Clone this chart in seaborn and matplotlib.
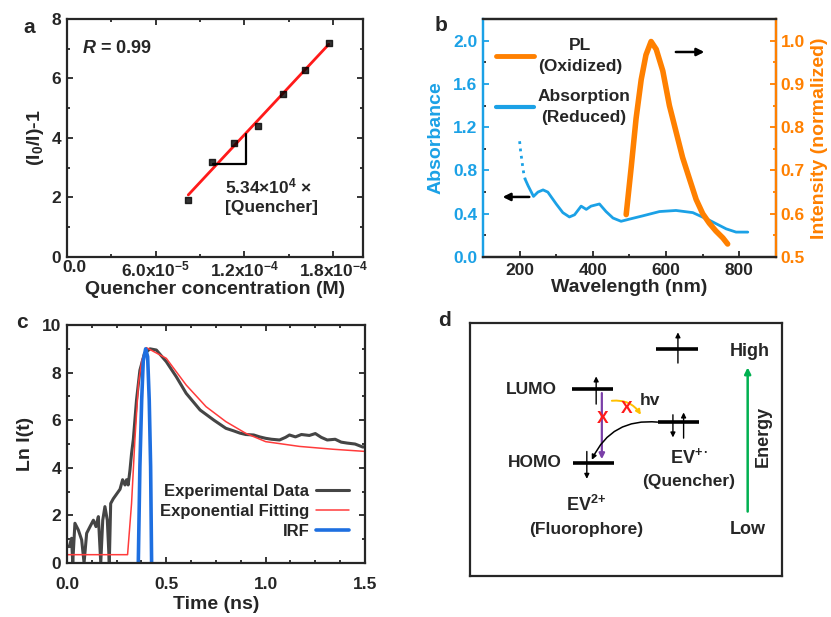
import numpy as np
import pandas as pd
import matplotlib
matplotlib.use("Agg")
import matplotlib.pyplot as plt
import matplotlib.transforms as mtransforms
import seaborn as sns
from matplotlib.lines import Line2D
from matplotlib.ticker import MultipleLocator

# ---------------- data ----------------
# a: Stern-Volmer
conc = [8.2e-5, 9.8e-5, 1.13e-4, 1.29e-4, 1.46e-4, 1.61e-4, 1.77e-4]
i0_ratio = [1.92, 3.19, 3.83, 4.40, 5.48, 6.29, 7.19]

# b: absorption (reduced) and PL (oxidized)
abs_wl_dot = [200, 203, 206, 209, 212, 215]
abs_val_dot = [1.07, 0.97, 0.90, 0.82, 0.76, 0.72]
abs_wl = [215, 223, 238, 250, 264, 277, 300, 318, 336, 350, 368, 382, 395, 418, 436,
          455, 477, 500, 536, 582, 627, 673, 718, 764, 791, 823]
abs_val = [0.72, 0.66, 0.56, 0.60, 0.62, 0.60, 0.49, 0.41, 0.37, 0.39, 0.47, 0.44, 0.47,
           0.49, 0.42, 0.36, 0.33, 0.35, 0.38, 0.42, 0.43, 0.41, 0.34, 0.26, 0.23, 0.23]
pl_wl = [491, 505, 518, 532, 545, 559, 573, 591, 609, 627, 645, 664, 682, 700, 718,
         736, 755, 768]
pl_val = [0.598, 0.71, 0.82, 0.91, 0.967, 0.998, 0.98, 0.93, 0.85, 0.79, 0.73, 0.68,
          0.633, 0.60, 0.578, 0.56, 0.544, 0.53]

# c: TRPL
exp_t = [0.0, 0.012, 0.023, 0.029, 0.04, 0.057, 0.074, 0.086, 0.099, 0.116, 0.133, 0.146,
         0.158, 0.17, 0.18, 0.191, 0.203, 0.213, 0.22, 0.233, 0.25, 0.267, 0.28, 0.292,
         0.30, 0.308, 0.317, 0.325, 0.334, 0.35, 0.367, 0.39, 0.418, 0.45, 0.50, 0.55,
         0.60, 0.67, 0.74, 0.80, 0.84, 0.87, 0.90, 0.94, 0.97, 1.00, 1.03, 1.07, 1.10,
         1.12, 1.15, 1.18, 1.22, 1.25, 1.28, 1.31, 1.35, 1.38, 1.41, 1.45, 1.49, 1.5]
exp_ln = [0.7, 0.69, 1.04, 0.0, 1.67, 1.39, 0.97, 0.0, 1.25, 1.53, 1.8, 1.53,
          1.95, 0.0, 1.8, 2.37, 1.8, 0.0, 2.5, 2.7, 2.9, 3.1, 3.5, 3.28,
          3.5, 3.28, 3.9, 4.6, 5.2, 6.85, 8.1, 8.8, 9.0, 8.95, 8.46, 7.83,
          7.13, 6.43, 6.0, 5.66, 5.55, 5.46, 5.40, 5.38, 5.30, 5.24, 5.20, 5.17, 5.28,
          5.38, 5.30, 5.40, 5.36, 5.44, 5.28, 5.17, 5.20, 5.08, 5.04, 5.00, 4.87, 4.9]
fit_t = [0.0, 0.305, 0.325, 0.342, 0.36, 0.376, 0.40, 0.50, 0.60, 0.70, 0.80, 0.90,
         1.00, 1.17, 1.34, 1.5]
fit_ln = [0.35, 0.35, 2.5, 5.2, 7.55, 8.5, 9.05, 8.6, 7.48, 6.57, 5.94, 5.45,
          5.1, 4.9, 4.78, 4.69]
irf_t = [0.359, 0.367, 0.376, 0.384, 0.396, 0.406, 0.414, 0.421, 0.426]
irf_ln = [0.0, 4.06, 6.85, 8.5, 9.0, 8.67, 6.85, 4.06, 0.0]

# ---------------- style ----------------
sns.set_style("ticks")
plt.rcParams["font.family"] = ["Liberation Sans", "DejaVu Sans"]
plt.rcParams["font.weight"] = "bold"
plt.rcParams["axes.labelweight"] = "bold"
plt.rcParams["mathtext.fontset"] = "custom"
plt.rcParams["mathtext.rm"] = "Liberation Sans:bold"
plt.rcParams["mathtext.bf"] = "Liberation Sans:bold"
plt.rcParams["mathtext.it"] = "Liberation Sans:bold:italic"

BLUE = "#1ba1e6"
ORANGE = "#ff8000"
TICK = 12.5
LAB = 14

fig = plt.figure(figsize=(8.31, 6.17), dpi=100)
ax_a = fig.add_axes([0.0806, 0.5835, 0.356, 0.3857])
ax_b = fig.add_axes([0.5812, 0.5835, 0.3526, 0.3857])
ax_c = fig.add_axes([0.0806, 0.0875, 0.3586, 0.3857])
ax_d = fig.add_axes([0.5656, 0.0665, 0.3755, 0.41])


def frame(ax, right=True, top=True):
    for s in ax.spines.values():
        s.set_linewidth(1.6)
    ax.tick_params(which="both", direction="in", top=top, right=right, width=1.3,
                   labelsize=TICK, pad=4)
    ax.tick_params(which="major", length=4)
    ax.tick_params(which="minor", length=2.5)


# ---------------- a ----------------
df_a = pd.DataFrame({"conc": conc, "ratio": i0_ratio})
sns.regplot(data=df_a, x="conc", y="ratio", ax=ax_a, ci=None, marker="s",
            scatter_kws={"color": "black", "s": 14, "zorder": 3},
            line_kws={"color": "#ff1a1a", "lw": 2})
ax_a.set_xlim(0, 2e-4)
ax_a.set_ylim(0, 8)
ax_a.set_xticks([0, 6e-5, 1.2e-4, 1.8e-4])
ax_a.set_xticklabels(["0.0", "6.0x10$^{-5}$", "1.2x10$^{-4}$", "1.8x10$^{-4}$"])
ax_a.xaxis.set_minor_locator(MultipleLocator(3e-5))
ax_a.yaxis.set_major_locator(MultipleLocator(2))
ax_a.yaxis.set_minor_locator(MultipleLocator(1))
ax_a.set_xlabel("Quencher concentration (M)", fontsize=LAB, labelpad=1)
ax_a.set_ylabel("(I$_0$/I)-1", fontsize=LAB, labelpad=4)
frame(ax_a)
ax_a.tick_params(axis="x", pad=2)
# the "0.0" label sits a little right of its tick in the original
zero_lab = ax_a.get_xticklabels()[0]
zero_lab.set_transform(zero_lab.get_transform() +
                       mtransforms.ScaledTranslation(0.07, 0, fig.dpi_scale_trans))
ax_a.plot([9.9e-5, 1.21e-4, 1.21e-4], [3.12, 3.12, 4.15], color="black", lw=1.6)
ax_a.text(1.07e-4, 2.05, "5.34×10$^{4}$ ×\n[Quencher]", fontsize=12.5, ha="left",
          va="center", linespacing=1.3)
ax_a.text(1.0e-5, 7.0, "$R$ = 0.99", fontsize=13, va="center")
fig.text(0.028, 0.955, "a", fontsize=15, fontweight="bold", va="center")

# ---------------- b ----------------
sns.lineplot(x=abs_wl_dot, y=abs_val_dot, ax=ax_b, color=BLUE, lw=2, ls=":")
sns.lineplot(x=abs_wl, y=abs_val, ax=ax_b, color=BLUE, lw=2)
ax_b.set_xlim(100, 900)
ax_b.set_ylim(0, 2.2)
ax_b.xaxis.set_major_locator(MultipleLocator(200))
ax_b.xaxis.set_minor_locator(MultipleLocator(100))
ax_b.yaxis.set_major_locator(MultipleLocator(0.4))
ax_b.yaxis.set_minor_locator(MultipleLocator(0.2))
ax_b.yaxis.set_major_formatter(matplotlib.ticker.FormatStrFormatter("%.1f"))
ax_b.set_xlabel("Wavelength (nm)", fontsize=LAB, labelpad=1)
ax_b.set_ylabel("Absorbance", fontsize=LAB, color=BLUE, labelpad=6)
frame(ax_b, right=False, top=False)
ax_b.tick_params(axis="y", colors=BLUE, labelcolor=BLUE)
ax_b.spines["left"].set_color(BLUE)

ax_b2 = ax_b.twinx()
sns.lineplot(x=pl_wl, y=pl_val, ax=ax_b2, color=ORANGE, lw=4)
ax_b2.set_ylim(0.5, 1.05)
ax_b2.yaxis.set_major_locator(MultipleLocator(0.1))
ax_b2.yaxis.set_minor_locator(MultipleLocator(0.05))
ax_b2.set_ylabel("Intensity (normalized)", fontsize=LAB, color=ORANGE, labelpad=4)
for s in ax_b2.spines.values():
    s.set_linewidth(1.6)
ax_b2.spines["right"].set_color(ORANGE)
ax_b2.spines["left"].set_color(BLUE)
ax_b2.tick_params(which="both", direction="in", colors=ORANGE, labelcolor=ORANGE,
                  labelsize=TICK, width=1.3)
ax_b2.tick_params(which="major", length=4)
ax_b2.tick_params(which="minor", length=2.5)

handles_b = [Line2D([], [], color=ORANGE, lw=3.5), Line2D([], [], color=BLUE, lw=3)]
leg_b = ax_b.legend(handles_b, ["PL\n(Oxidized)", "Absorption\n(Reduced)"],
                    loc="upper left", bbox_to_anchor=(0.015, 0.955), frameon=False,
                    fontsize=12.5, handlelength=2.2, handletextpad=0.2,
                    labelspacing=0.9, borderpad=0)
for t in leg_b.get_texts():
    t.set_multialignment("center")
    t.set_linespacing(1.45)
ax_b.annotate("", xy=(146, 0.555), xytext=(234, 0.555),
              arrowprops=dict(arrowstyle="-|>", color="black", lw=1.8, mutation_scale=11))
ax_b.annotate("", xy=(712, 1.895), xytext=(619, 1.895),
              arrowprops=dict(arrowstyle="-|>", color="black", lw=1.8, mutation_scale=11))
fig.text(0.523, 0.958, "b", fontsize=15, fontweight="bold", va="center")

# ---------------- c ----------------
sns.lineplot(x=exp_t, y=exp_ln, ax=ax_c, color="#454545", lw=2.2, sort=False)
sns.lineplot(x=fit_t, y=fit_ln, ax=ax_c, color="#ff3b3b", lw=1.1, sort=False)
sns.lineplot(x=irf_t, y=irf_ln, ax=ax_c, color="#1e6fe0", lw=2.6, sort=False)
ax_c.set_xlim(0, 1.5)
ax_c.set_ylim(0, 10)
ax_c.xaxis.set_major_locator(MultipleLocator(0.5))
ax_c.xaxis.set_minor_locator(MultipleLocator(0.125))
ax_c.yaxis.set_major_locator(MultipleLocator(2))
ax_c.yaxis.set_minor_locator(MultipleLocator(1))
ax_c.xaxis.set_major_formatter(matplotlib.ticker.FormatStrFormatter("%.1f"))
ax_c.set_xlabel("Time (ns)", fontsize=LAB, labelpad=3)
ax_c.set_ylabel("Ln I(t)", fontsize=LAB, labelpad=6)
frame(ax_c)
ax_c.tick_params(axis="x", pad=10)
handles_c = [Line2D([], [], color="#454545", lw=2.2), Line2D([], [], color="#ff3b3b", lw=1.1),
             Line2D([], [], color="#1e6fe0", lw=2.6)]
ax_c.legend(handles_c, ["Experimental Data", "Exponential Fitting", "IRF"],
            loc="lower right", bbox_to_anchor=(0.975, 0.065), frameon=False,
            markerfirst=False, fontsize=12, handlelength=2.0, handletextpad=0.4,
            labelspacing=0.3, borderpad=0)
fig.text(0.02, 0.478, "c", fontsize=15, fontweight="bold", va="center")

# ---------------- d ----------------
ax_d.set_xlim(150, 1085)
ax_d.set_ylim(828, 70)
ax_d.set_xticks([])
ax_d.set_yticks([])
for s in ax_d.spines.values():
    s.set_linewidth(1.6)
for (x0, x1, y) in [(455, 578, 268), (458, 580, 488), (712, 835, 367), (708, 832, 148)]:
    ax_d.plot([x0, x1], [y, y], color="black", lw=2.6, solid_capstyle="butt")


def arr(ax, x0, y0, x1, y1, color="black", lw=1.0, ms=7, cs="arc3"):
    ax.annotate("", xy=(x1, y1), xytext=(x0, y0),
                arrowprops=dict(arrowstyle="-|>", color=color, lw=lw,
                                mutation_scale=ms, connectionstyle=cs,
                                shrinkA=0, shrinkB=0))


arr(ax_d, 528, 313, 528, 230)
arr(ax_d, 500, 455, 500, 537)
arr(ax_d, 758, 345, 758, 413)
arr(ax_d, 790, 415, 790, 338)
arr(ax_d, 773, 190, 773, 98)
arr(ax_d, 545, 280, 545, 478, color="#7a3fa8", lw=1.6, ms=8)
arr(ax_d, 575, 303, 662, 345, color="#ffc000", lw=1.4, ms=7, cs="arc3,rad=-0.3")
arr(ax_d, 712, 367, 515, 480, color="black", lw=1.1, ms=7, cs="arc3,rad=0.35")
arr(ax_d, 982, 635, 982, 203, color="#00b050", lw=1.8, ms=9)
ax_d.text(548, 355, "X", color="#ff1a1a", fontsize=12.5, ha="center", va="center")
ax_d.text(618, 325, "X", color="#ff1a1a", fontsize=12.5, ha="center", va="center")
ax_d.text(690, 302, "hv", fontsize=12.5, ha="center", va="center")
ax_d.text(335, 268, "LUMO", fontsize=12.5, ha="center", va="center")
ax_d.text(345, 488, "HOMO", fontsize=12.5, ha="center", va="center")
ax_d.text(808, 472, r"EV$^{{+}\bullet}$", fontsize=13, ha="center", va="center")
ax_d.text(805, 545, "(Quencher)", fontsize=12.5, ha="center", va="center")
ax_d.text(497, 615, "EV$^{2{+}}$", fontsize=13, ha="center", va="center")
ax_d.text(497, 688, "(Fluorophore)", fontsize=12.5, ha="center", va="center")
ax_d.text(988, 155, "High", fontsize=13, ha="center", va="center")
ax_d.text(982, 690, "Low", fontsize=13, ha="center", va="center")
ax_d.text(1030, 410, "Energy", fontsize=13, ha="center", va="center", rotation=90)
fig.text(0.527, 0.48, "d", fontsize=15, fontweight="bold", va="center")

fig.savefig("out.png", dpi=100)
